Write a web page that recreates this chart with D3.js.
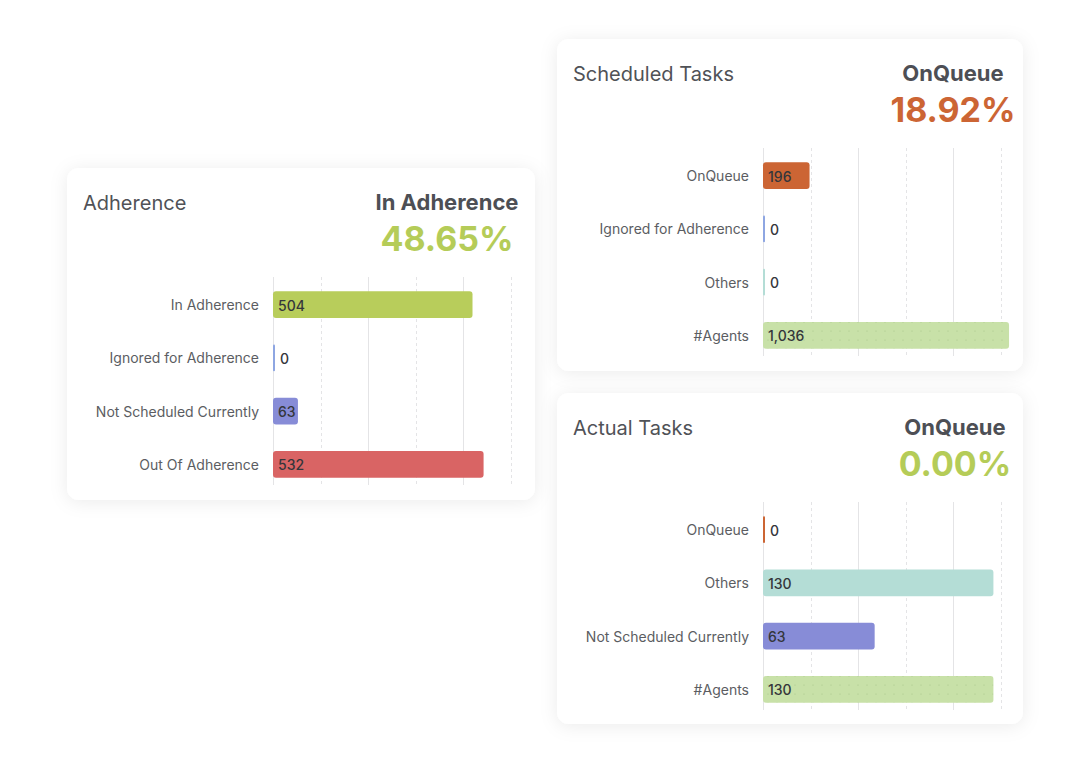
<!DOCTYPE html>
<html>
<head>
<meta charset="utf-8">
<script src="https://cdn.jsdelivr.net/npm/d3@7"></script>
<style>
  body { margin: 0; background: #fff; }
  text { font-family: Inter, "Noto Sans", sans-serif; }
</style>
</head>
<body>
<script>
// values
const adherenceCats = ["In Adherence", "Ignored for Adherence", "Not Scheduled Currently", "Out Of Adherence"];
const adherenceVals = [504, 0, 63, 532];
const scheduledCats = ["OnQueue", "Ignored for Adherence", "Others", "#Agents"];
const scheduledVals = [196, 0, 0, 1036];
const actualCats = ["OnQueue", "Others", "Not Scheduled Currently", "#Agents"];
const actualVals = [0, 130, 63, 130];

const cardTitles = ["Adherence", "Scheduled Tasks", "Actual Tasks"];
const kpiLabels = ["In Adherence", "OnQueue", "OnQueue"];
const kpiValues = ["48.65%", "18.92%", "0.00%"];
const axisMax = [600, 1000, 134];

const w = 1091, h = 763;
const colors = {
  "In Adherence": "#b8cd5b",
  "Ignored for Adherence": "#8ea6e2",
  "Not Scheduled Currently": "#878cd7",
  "Out Of Adherence": "#d96464",
  "OnQueue": "#cc6534",
  "Others": "#b4ddd6",
  "#Agents": "#c8e1a8"
};
const kpiColors = ["#b5cc58", "#cc6534", "#b5cc58"];

const cards = [
  {x: 67, y: 168, w: 468, h: 332, cx: 447, cats: adherenceCats, vals: adherenceVals},
  {x: 557, y: 39, w: 466, h: 332, cx: 953, cats: scheduledCats, vals: scheduledVals},
  {x: 557, y: 393, w: 466, h: 331, cx: 955, cats: actualCats, vals: actualVals}
];

const svg = d3.select("body").append("svg")
  .attr("width", w)
  .attr("height", h);

const defs = svg.append("defs");
defs.append("filter").attr("id", "shadow")
  .attr("x", "-10%").attr("y", "-10%").attr("width", "120%").attr("height", "120%")
  .append("feDropShadow")
  .attr("dx", 0).attr("dy", 2).attr("stdDeviation", 9)
  .attr("flood-color", "#000").attr("flood-opacity", 0.08);

const pat = defs.append("pattern").attr("id", "dots")
  .attr("width", 9).attr("height", 9).attr("patternUnits", "userSpaceOnUse");
pat.append("rect").attr("width", 9).attr("height", 9).attr("fill", colors["#Agents"]);
pat.append("circle").attr("cx", 4).attr("cy", 4).attr("r", 0.6).attr("fill", "#a9c68a");

const fmt = d3.format(",");

cards.forEach(function(c, i) {
  const g = svg.append("g").attr("transform", "translate(" + c.x + "," + c.y + ")");

  g.append("rect")
    .attr("width", c.w).attr("height", c.h)
    .attr("rx", 12)
    .attr("fill", "#fff")
    .attr("filter", "url(#shadow)");

  g.append("text")
    .attr("x", 16).attr("y", 42)
    .text(cardTitles[i])
    .attr("fill", "#505257")
    .style("font-size", "20px");

  g.append("text")
    .attr("x", c.cx - c.x).attr("y", 42)
    .attr("text-anchor", "middle")
    .text(kpiLabels[i])
    .attr("fill", "#4d4f55")
    .style("font-size", "22px")
    .style("font-weight", "700");

  g.append("text")
    .attr("x", c.cx - c.x).attr("y", 83)
    .attr("text-anchor", "middle")
    .text(kpiValues[i])
    .attr("fill", kpiColors[i])
    .style("font-size", "34px")
    .style("font-weight", "700");

  const x0 = 206;
  const xScale = d3.scaleLinear()
    .domain([0, axisMax[i]])
    .range([x0, x0 + 237.5]);
  const yScale = d3.scaleBand()
    .domain(c.cats)
    .range([110, 323])
    .paddingInner(0.5)
    .paddingOuter(0.25);

  const gridVals = d3.range(6).map(k => axisMax[i] * k / 5);
  g.selectAll("line.grid")
    .data(gridVals)
    .enter()
    .append("line")
    .attr("class", "grid")
    .attr("x1", d => Math.round(xScale(d)) + 0.5)
    .attr("x2", d => Math.round(xScale(d)) + 0.5)
    .attr("y1", 109)
    .attr("y2", 317)
    .attr("stroke", "#e4e4e6")
    .attr("stroke-width", 1)
    .attr("stroke-dasharray", (d, k) => k % 2 === 1 ? "3,3" : null);

  g.selectAll("text.cat")
    .data(c.cats)
    .enter()
    .append("text")
    .attr("class", "cat")
    .attr("x", x0 - 14)
    .attr("y", d => yScale(d) + yScale.bandwidth() / 2)
    .attr("dy", "0.4em")
    .attr("text-anchor", "end")
    .text(d => d)
    .attr("fill", "#5b5d62")
    .style("font-size", "14px");

  g.selectAll("rect.bar")
    .data(c.cats)
    .enter()
    .append("rect")
    .attr("class", "bar")
    .attr("x", x0)
    .attr("y", d => yScale(d))
    .attr("width", (d, k) => Math.max(2, xScale(c.vals[k]) - x0))
    .attr("height", yScale.bandwidth())
    .attr("rx", (d, k) => c.vals[k] === 0 ? 1 : 3)
    .attr("fill", d => d === "#Agents" ? "url(#dots)" : colors[d]);

  g.selectAll("text.val")
    .data(c.cats)
    .enter()
    .append("text")
    .attr("class", "val")
    .attr("x", (d, k) => c.vals[k] === 0 ? x0 + 7 : x0 + 5)
    .attr("y", d => yScale(d) + yScale.bandwidth() / 2)
    .attr("dy", "0.42em")
    .text((d, k) => fmt(c.vals[k]))
    .attr("fill", "#34363b")
    .style("font-size", "14px")
    .style("font-weight", "500");
});
</script>
</body>
</html>
